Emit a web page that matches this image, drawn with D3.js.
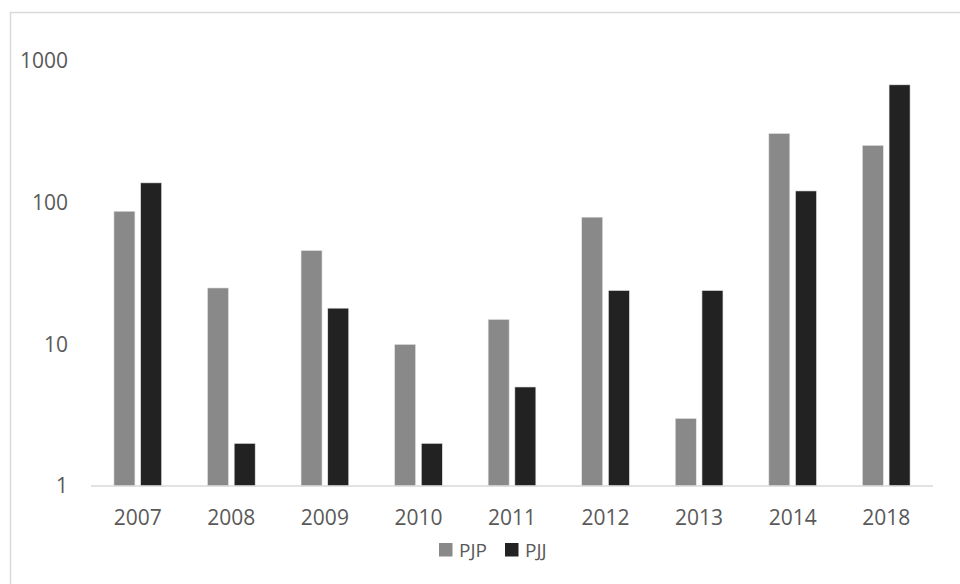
<!DOCTYPE html>
<html lang="en">
<head>
  <meta charset="UTF-8" />
  <title>PJP vs PJJ</title>
  <script src="https://d3js.org/d3.v7.min.js"></script>
  <style>
    body {
      margin: 0;
      background: #fff;
    }
    svg {
      display: block;
      font-family: "Open Sans", sans-serif;
    }
  </style>
</head>
<body>
  <svg id="chart" width="960" height="584"></svg>

  <script>
    const years = ["2007", "2008", "2009", "2010", "2011", "2012", "2013", "2014", "2018"];
    const seriesNames = ["PJP", "PJJ"];
    const pjp = [87, 25, 46, 10, 15, 79, 3, 308, 254];
    const pjj = [138, 2, 18, 2, 5, 24, 24, 121, 679];
    const yTicks = [1, 10, 100, 1000];

    const colors = { PJP: "#898989", PJJ: "#222222" };

    const rows = years.map((y, i) => ({ year: y, PJP: pjp[i], PJJ: pjj[i] }));

    const svg = d3.select("#chart");

    // chart frame (runs off the right and bottom edges)
    svg.append("rect")
      .attr("x", 10.5).attr("y", 12.5)
      .attr("width", 980).attr("height", 600)
      .attr("fill", "none")
      .attr("stroke", "#d9d9d9")
      .attr("stroke-width", 1.5);

    const plotLeft = 91, plotRight = 933, plotTop = 61, plotBottom = 486;

    const x0 = d3.scaleBand()
      .domain(years)
      .range([plotLeft, plotRight])
      .paddingInner(0.49)
      .paddingOuter(0.245);

    const x1 = d3.scaleBand()
      .domain(seriesNames)
      .range([0, x0.bandwidth()])
      .paddingInner(0.213);

    const y = d3.scaleLog()
      .domain([1, 1000])
      .range([plotBottom, plotTop]);

    // bars
    svg.append("g")
      .selectAll("g")
      .data(rows)
      .join("g")
      .attr("transform", d => `translate(${x0(d.year)},0)`)
      .selectAll("rect")
      .data(d => seriesNames.map(k => ({ key: k, value: d[k] })))
      .join("rect")
      .attr("x", d => x1(d.key))
      .attr("y", d => y(d.value))
      .attr("width", x1.bandwidth())
      .attr("height", d => y(1) - y(d.value))
      .attr("fill", d => colors[d.key])
      .attr("stroke", "#e6e6e6")
      .attr("stroke-width", 0.6);

    // baseline
    svg.append("line")
      .attr("x1", plotLeft).attr("x2", plotRight)
      .attr("y1", y(1)).attr("y2", y(1))
      .attr("stroke", "#d9d9d9")
      .attr("stroke-width", 1.5);

    // y axis labels
    svg.append("g")
      .selectAll("text")
      .data(yTicks)
      .join("text")
      .attr("x", 68)
      .attr("y", d => y(d))
      .attr("dy", "0.35em")
      .attr("text-anchor", "end")
      .attr("fill", "#595959")
      .attr("font-size", 21)
      .text(d => d);

    // x axis labels
    svg.append("g")
      .selectAll("text")
      .data(years)
      .join("text")
      .attr("x", d => x0(d) + x0.bandwidth() / 2)
      .attr("y", 525)
      .attr("text-anchor", "middle")
      .attr("fill", "#595959")
      .attr("font-size", 21)
      .text(d => d);

    // legend
    const legend = svg.append("g")
      .selectAll("g")
      .data(seriesNames)
      .join("g")
      .attr("transform", (d, i) => `translate(${i === 0 ? 439 : 505},543)`);

    legend.append("rect")
      .attr("width", 13.5)
      .attr("height", 13.5)
      .attr("fill", d => colors[d]);

    legend.append("text")
      .attr("x", 20)
      .attr("y", 14)
      .attr("fill", "#595959")
      .attr("font-size", 19)
      .text(d => d);
  </script>
</body>
</html>
